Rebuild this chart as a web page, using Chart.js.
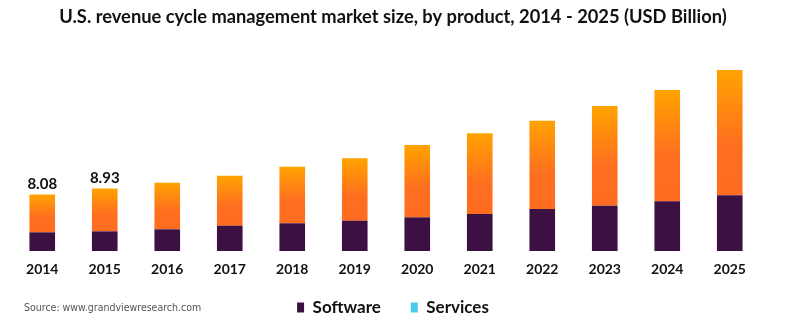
<!DOCTYPE html>
<html>
<head>
<meta charset="utf-8">
<script src="https://cdn.jsdelivr.net/npm/chart.js@4.4.0/dist/chart.umd.min.js"></script>
<style>
  html, body { margin: 0; padding: 0; background: #ffffff; }
  #wrap { position: relative; width: 786px; height: 334px; }
</style>
</head>
<body>
<div id="wrap"><canvas id="c" width="786" height="334"></canvas></div>
<script>
const years = ['2014','2015','2016','2017','2018','2019','2020','2021','2022','2023','2024','2025'];
const software = [2.67, 2.81, 3.10, 3.61, 3.96, 4.33, 4.81, 5.29, 6.00, 6.47, 7.10, 7.96];
const services = [5.41, 6.12, 6.66, 7.15, 8.08, 8.91, 10.33, 11.52, 12.61, 14.24, 15.90, 17.90];
const labeledYears = ['2014', '2015'];
const titleText = 'U.S. revenue cycle management market size, by product, 2014 - 2025 (USD Billion)';
const sourceText = 'Source: www.grandviewresearch.com';

const FONT = "'Lato', 'Open Sans', sans-serif";

const totalLabels = {
  id: 'totalLabels',
  afterDatasetsDraw(chart) {
    const ctx = chart.ctx;
    const meta = chart.getDatasetMeta(1);
    ctx.save();
    ctx.font = "bold 15px " + FONT;
    ctx.fillStyle = '#111111';
    ctx.textAlign = 'center';
    ctx.textBaseline = 'bottom';
    years.forEach((yr, i) => {
      if (labeledYears.includes(yr)) {
        const el = meta.data[i];
        const total = (software[i] + services[i]).toFixed(2);
        ctx.fillText(total, el.x, el.y - 3);
      }
    });
    ctx.restore();
  }
};

const sourcePlugin = {
  id: 'sourceText',
  afterDraw(chart) {
    const ctx = chart.ctx;
    ctx.save();
    ctx.font = "10.5px 'Liberation Sans Narrow', 'DejaVu Sans Condensed', sans-serif";
    ctx.fillStyle = '#555555';
    ctx.textAlign = 'left';
    ctx.textBaseline = 'middle';
    ctx.fillText(sourceText, 24, 308);
    ctx.restore();
  }
};

// let the x tick labels extend below the (shortened) axis box without being clipped
const unclipX = {
  id: 'unclipX',
  afterLayout(chart) { chart.scales.x.bottom = chart.height; }
};

function servicesFill(c) {
  const chart = c.chart;
  if (!chart.chartArea || c.type !== 'data') return '#FF7A1E';
  const y = chart.scales.y;
  const i = c.dataIndex;
  const top = y.getPixelForValue(software[i] + services[i]);
  const bot = y.getPixelForValue(software[i]);
  const g = chart.ctx.createLinearGradient(0, top, 0, bot);
  g.addColorStop(0, '#FFA300');
  g.addColorStop(0.6, '#FF6F20');
  g.addColorStop(1, '#FF6C20');
  return g;
}

new Chart(document.getElementById('c'), {
  type: 'bar',
  data: {
    labels: years,
    datasets: [
      { label: 'Software', data: software, backgroundColor: '#3C1043', legendColor: '#3C1043',
        barPercentage: 0.82, categoryPercentage: 0.5 },
      { label: 'Services', data: services, backgroundColor: servicesFill, legendColor: '#4CC9EF',
        barPercentage: 0.82, categoryPercentage: 0.5 }
    ]
  },
  options: {
    responsive: false,
    animation: false,
    layout: { padding: { left: 11, right: 11, top: 0, bottom: 8 } },
    scales: {
      x: {
        stacked: true,
        grid: { display: false, drawTicks: false },
        border: { display: false },
        ticks: { color: '#111111', font: { family: FONT, size: 14, weight: 'bold' }, padding: 10 },
        afterFit(scale) { scale.height = 18; }
      },
      y: {
        stacked: true,
        position: 'right',
        display: true,
        grid: { display: false, drawTicks: false },
        border: { display: false },
        ticks: { display: false },
        afterFit(scale) { scale.width = 14; },
        min: 0, max: 27
      }
    },
    plugins: {
      title: {
        display: true,
        text: titleText,
        color: '#111111',
        font: { family: FONT, size: 18.3, weight: 'bold' },
        padding: { top: 6, bottom: 34 }
      },
      legend: {
        position: 'bottom',
        align: 'center',
        labels: {
          color: '#111111',
          font: { family: FONT, size: 17, weight: 'bold' },
          boxWidth: 7, boxHeight: 10, padding: 30,
          generateLabels(chart) {
            return chart.data.datasets.map((ds, i) => ({
              text: ds.label, fillStyle: ds.legendColor, strokeStyle: ds.legendColor,
              lineWidth: 0, hidden: false, datasetIndex: i, fontColor: '#111111'
            }));
          }
        }
      },
      tooltip: { enabled: false }
    }
  },
  plugins: [totalLabels, sourcePlugin, unclipX]
});
</script>
</body>
</html>
